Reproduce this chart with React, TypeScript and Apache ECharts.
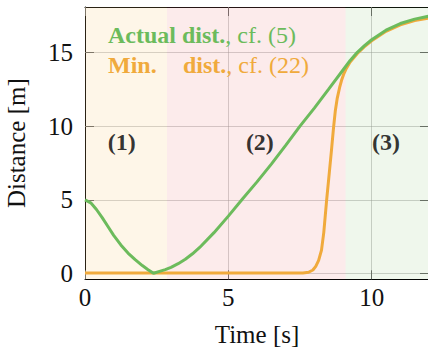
import React, { useEffect, useRef } from "react";
import * as echarts from "echarts";

// ---- data ----
const timeGreen = [0, 0.2, 0.4, 0.6, 0.8, 1.0, 1.25, 1.5, 1.75, 2.0, 2.2, 2.39, 2.6, 2.8, 3.0, 3.25, 3.5, 3.75, 4.0, 4.5, 5.0, 5.5, 6.0, 6.5, 7.0, 7.5, 8.0, 8.5, 9.0, 9.25, 9.5, 9.75, 10.0, 10.5, 11.0, 11.5, 12.0];
const actualDist = [5.0, 4.8, 4.35, 3.8, 3.2, 2.6, 1.95, 1.4, 0.95, 0.55, 0.27, 0.03, 0.16, 0.28, 0.43, 0.68, 0.98, 1.35, 1.78, 2.78, 3.9, 5.08, 6.22, 7.42, 8.7, 10.0, 11.22, 12.5, 13.8, 14.45, 15.0, 15.45, 15.85, 16.5, 16.95, 17.25, 17.45];

const timeOrange = [0, 7.6, 7.8, 7.95, 8.05, 8.15, 8.25, 8.33, 8.43, 8.52, 8.6, 8.67, 8.73, 8.8, 8.88, 8.95, 9.02, 9.1, 9.25, 9.5, 9.75, 10.0, 10.5, 11.0, 11.5, 12.0];
const minDist = [0.05, 0.05, 0.1, 0.25, 0.5, 0.9, 1.6, 2.8, 5.0, 6.8, 8.4, 9.9, 11.0, 11.9, 12.6, 13.1, 13.5, 13.85, 14.35, 14.92, 15.38, 15.78, 16.42, 16.86, 17.15, 17.32];

const xTicks = [0, 5, 10];
const yTicks = [0, 5, 10, 15];
const xRange = [0, 12];
const yRange = [-0.38, 18.07];

const regionBounds = [0, 2.86, 9.09, 12];
const regionColors = ["rgba(247,200,120,0.17)", "rgba(235,130,130,0.16)", "rgba(120,190,100,0.12)"];
const regionLabels = ["(1)", "(2)", "(3)"];
const regionLabelX = [1.28, 6.1, 10.5];
const regionLabelY = [8.9, 8.9, 8.9];

const GREEN = "#6cbb5c";
const ORANGE = "#f0aa3c";
const FONT = "Liberation Serif";

export default function App() {
  const ref = useRef<HTMLDivElement>(null);

  useEffect(() => {
    if (!ref.current) return;
    const chart = echarts.init(ref.current, undefined, { renderer: "svg" });

    const tickStyle = { inside: true, length: 9, lineStyle: { color: "#666", width: 1 } };
    const splitStyle = { show: true, lineStyle: { color: "rgba(150,150,150,0.45)", width: 1 } };
    const labelStyle = { fontFamily: FONT, fontSize: 25, color: "#111" };

    const option: any = {
      animation: false,
      backgroundColor: "#fff",
      textStyle: { fontFamily: FONT },
      grid: {
        left: 85,
        right: -1,
        top: 7,
        bottom: 347 - 279.3,
        containLabel: false,
        outerBoundsMode: "none",
      },
      xAxis: [
        {
          type: "value",
          min: xRange[0],
          max: xRange[1],
          position: "bottom",
          axisLine: { show: true, onZero: false, lineStyle: { color: "#000", width: 1 } },
          axisTick: { ...tickStyle, customValues: xTicks },
          axisLabel: { ...labelStyle, margin: 6, customValues: xTicks },
          splitLine: splitStyle,
          name: "Time [s]",
          nameLocation: "middle",
          nameGap: 43,
          nameTextStyle: { fontFamily: FONT, fontSize: 25, color: "#111" },
        },
        {
          type: "value",
          min: xRange[0],
          max: xRange[1],
          position: "top",
          axisLine: { show: true, onZero: false, lineStyle: { color: "#000", width: 1 } },
          axisTick: { ...tickStyle, customValues: xTicks },
          axisLabel: { show: false },
          splitLine: { show: false },
        },
      ],
      yAxis: [
        {
          type: "value",
          min: yRange[0],
          max: yRange[1],
          position: "left",
          axisLine: { show: true, onZero: false, lineStyle: { color: "#000", width: 1 } },
          axisTick: { ...tickStyle, customValues: yTicks },
          axisLabel: { ...labelStyle, margin: 12, customValues: yTicks },
          splitLine: splitStyle,
          name: "Distance [m]",
          nameLocation: "middle",
          nameGap: 56,
          nameTextStyle: { fontFamily: FONT, fontSize: 25, color: "#111" },
        },
        {
          type: "value",
          min: yRange[0],
          max: yRange[1],
          position: "right",
          axisLine: { show: true, onZero: false, lineStyle: { color: "#000", width: 1 } },
          axisTick: { ...tickStyle, customValues: yTicks },
          axisLabel: { show: false },
          splitLine: { show: false },
        },
      ],
      series: [
        {
          type: "line",
          z: 1,
          data: [],
          silent: true,
          markArea: {
            silent: true,
            data: regionColors.map((c, i) => [
              { xAxis: regionBounds[i], yAxis: yRange[0], itemStyle: { color: c } },
              { xAxis: regionBounds[i + 1], yAxis: yRange[1] },
            ]),
          },
        },
        {
          type: "line",
          name: "Min. dist.",
          z: 3,
          showSymbol: false,
          symbol: "none",
          data: timeOrange.map((t, i) => [t, minDist[i]]),
          lineStyle: { color: ORANGE, width: 3 },
          itemStyle: { color: ORANGE },
        },
        {
          type: "line",
          name: "Actual dist.",
          z: 4,
          showSymbol: false,
          symbol: "none",
          data: timeGreen.map((t, i) => [t, actualDist[i]]),
          lineStyle: { color: GREEN, width: 3 },
          itemStyle: { color: GREEN },
        },
        {
          type: "scatter",
          z: 5,
          symbolSize: 0,
          data: regionLabels.map((n, i) => ({ name: n, value: [regionLabelX[i], regionLabelY[i]] })),
          label: {
            show: true,
            position: "inside",
            formatter: (p: any) => p.name,
            fontFamily: FONT,
            fontWeight: "bold",
            fontSize: 24,
            color: "#000",
          },
        },
      ],
      graphic: [
        {
          type: "text",
          x: 108,
          y: 35,
          z: 10,
          style: {
            text: "{b|Actual dist.}, cf. (5)",
            fill: GREEN,
            fontFamily: FONT,
            fontSize: 24,
            verticalAlign: "middle",
            align: "left",
            rich: { b: { fontFamily: FONT, fontSize: 24, fontWeight: "bold", fill: GREEN } },
          },
        },
        {
          type: "text",
          x: 108,
          y: 65,
          z: 10,
          style: {
            text: "Min.",
            fill: ORANGE,
            fontFamily: FONT,
            fontSize: 24,
            fontWeight: "bold",
            verticalAlign: "middle",
            align: "left",
          },
        },
        {
          type: "text",
          x: 183,
          y: 65,
          z: 10,
          style: {
            text: "{b|dist.}, cf. (22)",
            fill: ORANGE,
            fontFamily: FONT,
            fontSize: 24,
            verticalAlign: "middle",
            align: "left",
            rich: { b: { fontFamily: FONT, fontSize: 24, fontWeight: "bold", fill: ORANGE } },
          },
        },
      ],
    };

    chart.setOption(option);
    return () => chart.dispose();
  }, []);

  return (
    <div
      ref={ref}
      style={{ position: "fixed", left: 0, top: 0, width: 428, height: 347, background: "#fff" }}
    />
  );
}
